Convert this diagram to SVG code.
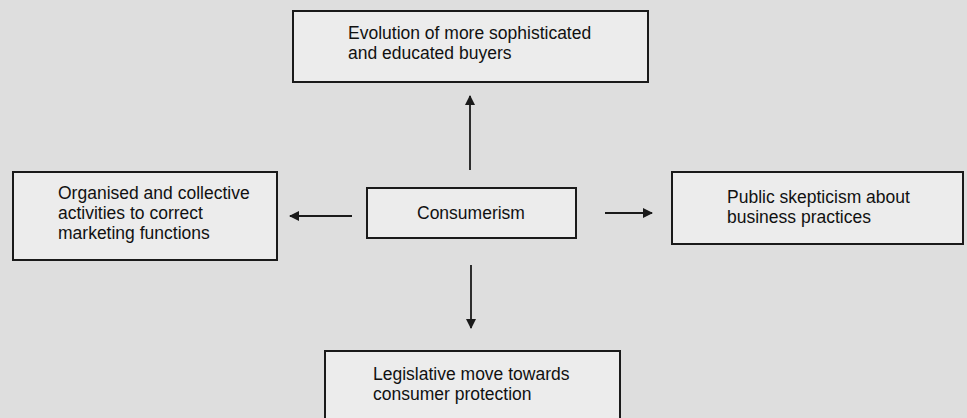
<svg xmlns="http://www.w3.org/2000/svg" width="967" height="418" viewBox="0 0 967 418">
  <defs>
    <marker id="ah" viewBox="0 0 10 10" refX="9" refY="5" markerWidth="11" markerHeight="10" markerUnits="userSpaceOnUse" orient="auto">
      <path d="M0,0 L10,5 L0,10 Z" fill="#1a1a1a"/>
    </marker>
  </defs>
  <style>
    .box { fill: #ececec; stroke: #1a1a1a; stroke-width: 2; }
    .lbl { font-family: "Liberation Sans", Arial, sans-serif; font-size: 17.5px; fill: #111; }
    .con { stroke: #1a1a1a; stroke-width: 1.8; fill: none; marker-end: url(#ah); }
  </style>
  <rect x="0" y="0" width="967" height="418" fill="#dedede"/>

  <g id="connectors">
    <line class="con" x1="470" y1="170" x2="470" y2="96"/>
    <line class="con" x1="352" y1="216" x2="290" y2="216"/>
    <line class="con" x1="605" y1="213" x2="652" y2="213"/>
    <line class="con" x1="471" y1="265" x2="471" y2="328"/>
  </g>

  <g id="node-evolution">
    <rect class="box" x="293" y="11" width="355" height="71"/>
    <text class="lbl" x="348" y="39">Evolution of more sophisticated</text>
    <text class="lbl" x="348" y="59">and educated buyers</text>
  </g>

  <g id="node-organised">
    <rect class="box" x="13" y="172" width="264" height="88"/>
    <text class="lbl" x="58" y="199">Organised and collective</text>
    <text class="lbl" x="58" y="219">activities to correct</text>
    <text class="lbl" x="58" y="239">marketing functions</text>
  </g>

  <g id="node-consumerism">
    <rect class="box" x="367" y="188" width="209" height="50"/>
    <text class="lbl" x="417" y="219">Consumerism</text>
  </g>

  <g id="node-skepticism">
    <rect class="box" x="672" y="172" width="291" height="72"/>
    <text class="lbl" x="727" y="203">Public skepticism about</text>
    <text class="lbl" x="727" y="223">business practices</text>
  </g>

  <g id="node-legislative">
    <rect class="box" x="325" y="351" width="295" height="80"/>
    <text class="lbl" x="373" y="380">Legislative move towards</text>
    <text class="lbl" x="373" y="400">consumer protection</text>
  </g>
</svg>
